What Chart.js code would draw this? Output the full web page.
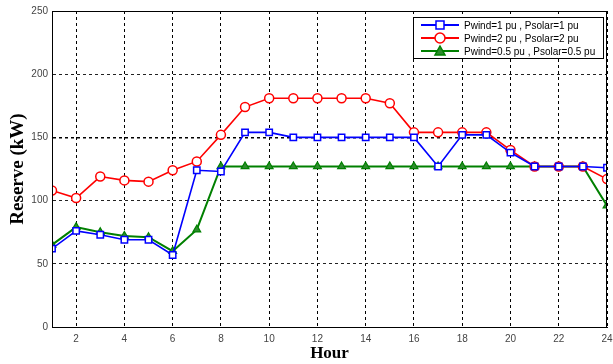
<!DOCTYPE html>
<html>
<head>
<meta charset="utf-8">
<script src="https://cdn.jsdelivr.net/npm/chart.js@4.4.1/dist/chart.umd.min.js"></script>
<style>
  html, body { margin: 0; padding: 0; background: #fff; }
  #wrap { width: 613px; height: 364px; }
</style>
</head>
<body>
<div id="wrap"><canvas id="myChart"></canvas></div>
<script>
// Heures et valeurs
const hours = [1,2,3,4,5,6,7,8,9,10,11,12,13,14,15,16,17,18,19,20,21,22,23,24];
const reserve1 = [62,76,73,69,69,57,124,123,154,154,150,150,150,150,150,150,127,152,152,138,127,127,127,126];
const reserve2 = [108,102,119,116,115,124,131,152,174,181,181,181,181,181,177,154,154,154,154,140,127,127,127,117];
const reserve05 = [65,79,75,72,71,60,77,127,127,127,127,127,127,127,127,127,127,127,127,127,127,127,127,96];
const xTicks = [2,4,6,8,10,12,14,16,18,20,22,24];
const seriesLabels = ['Pwind=1 pu , Psolar=1 pu', 'Pwind=2 pu , Psolar=2 pu', 'Pwind=0.5 pu , Psolar=0.5 pu'];

const toPoints = arr => arr.map((v, i) => ({ x: hours[i], y: v }));

// Légende dessinée dans la zone du graphe (encadré en haut à droite)
const boxLegend = {
  id: 'boxLegend',
  afterDraw(chart) {
    const c = chart.ctx;
    const a = chart.chartArea;
    const w = 190, h = 41;
    const x0 = a.right - w - 4, y0 = a.top + 6;
    c.save();
    c.fillStyle = '#fff';
    c.fillRect(x0, y0, w, h);
    c.strokeStyle = '#000';
    c.lineWidth = 1;
    c.strokeRect(x0 + 0.5, y0 + 0.5, w, h);
    chart.data.datasets.forEach((ds, i) => {
      const y = y0 + 8 + i * 13;
      const lx = x0 + 8, rx = x0 + 46;
      c.strokeStyle = ds.borderColor;
      c.lineWidth = 2;
      c.beginPath();
      c.moveTo(lx, y);
      c.lineTo(rx, y);
      c.stroke();
      const mx = (lx + rx) / 2;
      c.lineWidth = 1.5;
      c.fillStyle = ds.pointBackgroundColor;
      c.beginPath();
      if (ds.pointStyle === 'rect') {
        c.rect(mx - 4, y - 4, 8, 8);
      } else if (ds.pointStyle === 'circle') {
        c.arc(mx, y, 5, 0, Math.PI * 2);
      } else {
        c.moveTo(mx, y - 5);
        c.lineTo(mx + 5, y + 4);
        c.lineTo(mx - 5, y + 4);
        c.closePath();
      }
      c.fill();
      c.stroke();
      c.fillStyle = '#000';
      c.font = '10px "Liberation Sans", Arial';
      c.textBaseline = 'middle';
      c.fillText(ds.label, x0 + 51, y + 1);
    });
    c.restore();
  }
};

// Cadre noir autour de la zone du graphe
const frame = {
  id: 'frame',
  afterDatasetsDraw(chart) {
    const c = chart.ctx;
    const a = chart.chartArea;
    c.save();
    c.strokeStyle = '#000';
    c.lineWidth = 1;
    c.strokeRect(a.left + 0.5, a.top + 0.5, a.right - a.left - 1, a.bottom - a.top);
    c.restore();
  }
};

const ctx = document.getElementById('myChart');
new Chart(ctx, {
  type: 'line',
  data: {
    datasets: [
      {
        label: seriesLabels[0],
        data: toPoints(reserve1),
        borderColor: '#0000ff',
        borderWidth: 1.6,
        pointStyle: 'rect',
        pointRadius: 4.5,
        pointBorderWidth: 1.5,
        pointBackgroundColor: '#ffffff',
        pointBorderColor: '#0000ff',
        tension: 0
      },
      {
        label: seriesLabels[1],
        data: toPoints(reserve2),
        borderColor: '#ff0000',
        borderWidth: 1.6,
        pointStyle: 'circle',
        pointRadius: 4.5,
        pointBorderWidth: 1.5,
        pointBackgroundColor: '#ffffff',
        pointBorderColor: '#ff0000',
        tension: 0
      },
      {
        label: seriesLabels[2],
        data: toPoints(reserve05),
        borderColor: '#008000',
        borderWidth: 2,
        pointStyle: 'triangle',
        pointRadius: 4.5,
        pointBorderWidth: 1.2,
        pointBackgroundColor: '#2e8b2e',
        pointBorderColor: '#008000',
        tension: 0
      }
    ]
  },
  plugins: [frame, boxLegend],
  options: {
    responsive: true,
    maintainAspectRatio: false,
    animation: false,
    layout: { padding: { top: 11, right: 3, left: 0, bottom: 0 } },
    scales: {
      x: {
        type: 'linear',
        min: 1,
        max: 24,
        afterBuildTicks: scale => { scale.ticks = xTicks.map(v => ({ value: v })); },
        afterFit: scale => { scale.height = 37; scale.paddingRight = 0; },
        grid: {
          color: '#000',
          lineWidth: 1,
          drawTicks: false
        },
        border: { display: true, color: '#000', dash: [3, 3], width: 1 },
        ticks: {
          color: '#444',
          padding: 6,
          maxRotation: 0,
          font: { family: '"Liberation Sans", Arial', size: 10 }
        },
        title: {
          display: true,
          text: 'Hour',
          color: '#000',
          padding: { top: 0, bottom: 0 },
          font: { family: '"Liberation Serif", "Times New Roman"', size: 17, weight: 'bold' }
        }
      },
      y: {
        min: 0,
        max: 250,
        afterFit: scale => { scale.width = 52; },
        grid: {
          color: ctx => ctx.tick.value === 150 ? '#000' : '#222',
          lineWidth: ctx => ctx.tick.value === 150 ? 1.5 : 1,
          drawTicks: false
        },
        border: { display: true, color: '#777', dash: [3, 3], width: 1 },
        ticks: {
          stepSize: 50,
          color: '#444',
          padding: 4,
          font: { family: '"Liberation Sans", Arial', size: 10 }
        },
        title: {
          display: true,
          text: 'Reserve (kW)',
          color: '#000',
          padding: { top: 7, bottom: 0 },
          font: { family: '"Liberation Serif", "Times New Roman"', size: 19, weight: 'bold' }
        }
      }
    },
    plugins: {
      legend: { display: false },
      tooltip: { enabled: false }
    }
  }
});
</script>
</body>
</html>
